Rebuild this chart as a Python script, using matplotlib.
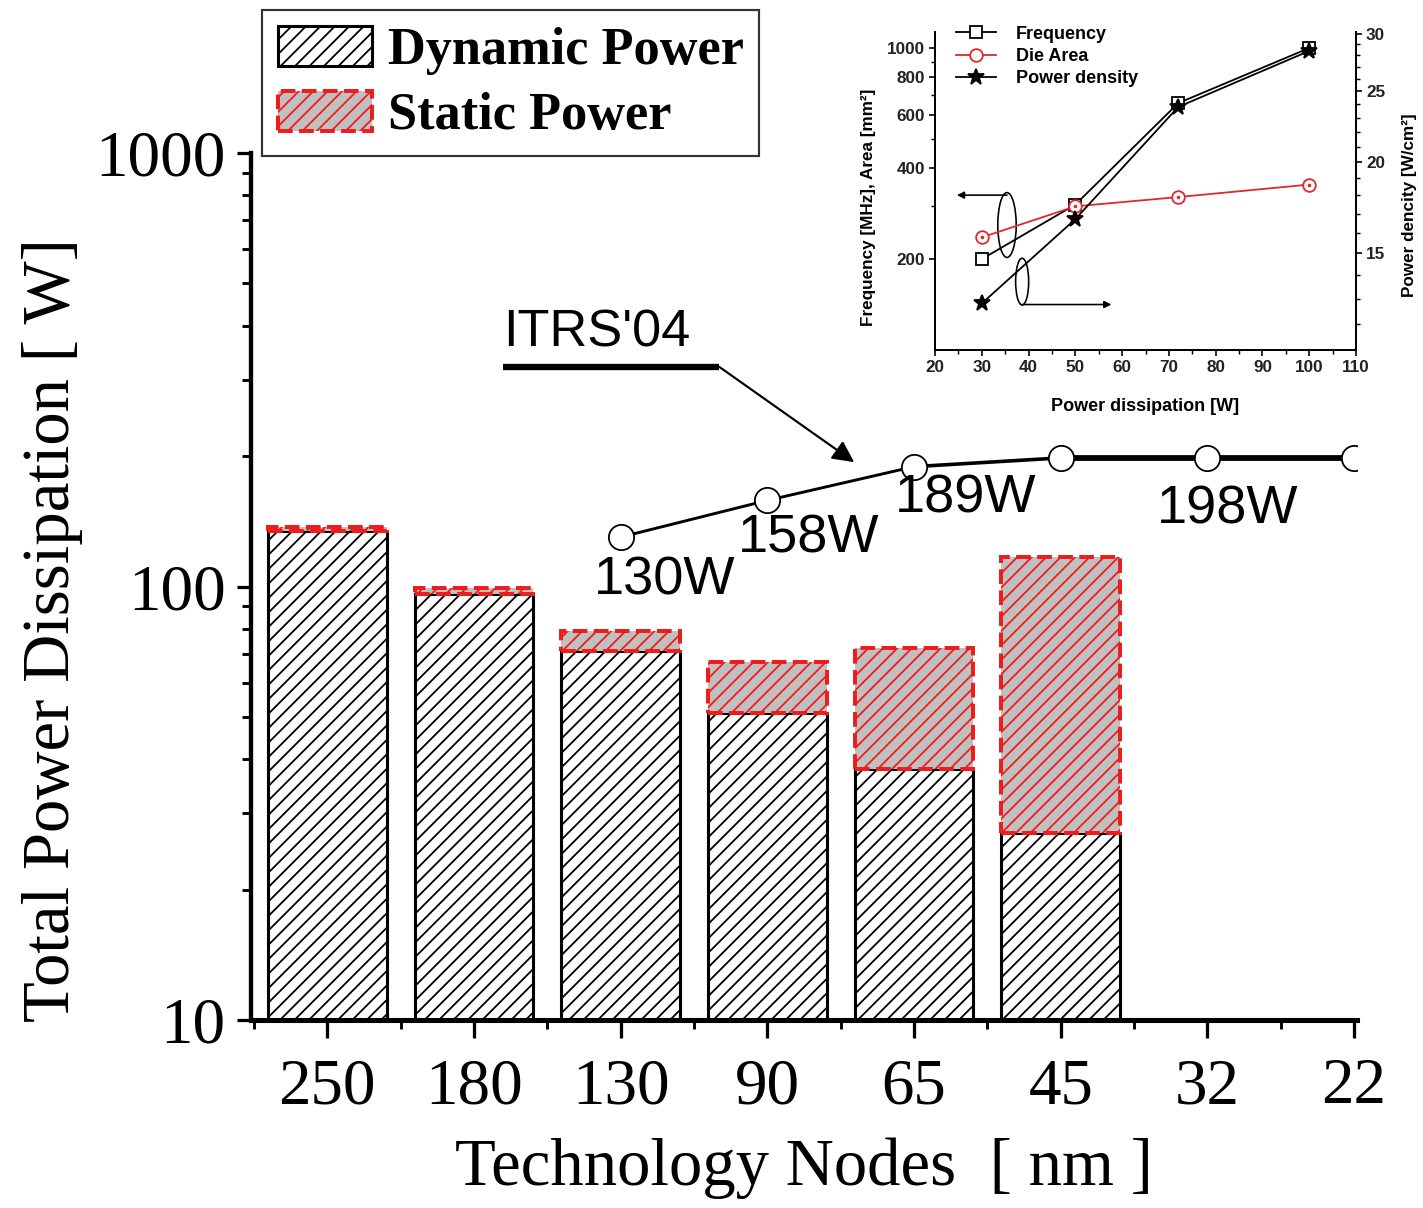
import matplotlib
matplotlib.use('Agg')
import matplotlib.pyplot as plt
from matplotlib.patches import Ellipse
from matplotlib.ticker import FixedLocator, FuncFormatter, MultipleLocator, NullFormatter
import numpy as np

# main chart: power per technology node
nodes = ['250', '180', '130', '90', '65', '45', '32', '22']
dynamic_power = [134, 96, 71, 51, 38, 27]
static_power = [3, 3, 8, 16, 34, 90]

itrs_nodes = ['130', '90', '65', '45', '32', '22']
itrs_power = [130, 158, 189, 198, 198, 198]
itrs_label_nodes = ['130', '90', '65', '32']
itrs_labels = ['130W', '158W', '189W', '198W']

# inset: frequency / die area / power density vs power
inset_power = [30, 50, 72, 100]
frequency = [200, 303, 657, 1000]
die_area = [236, 299, 321, 353]
power_density = [12.8, 16.7, 23.8, 28.4]

DPI = 130
W, H = 1423, 1208
plt.rcParams['hatch.linewidth'] = 1.0
plt.rcParams['font.family'] = 'Liberation Sans'
serif = 'Liberation Serif'
red = '#ee1c1c'

fig = plt.figure(figsize=(W / DPI, H / DPI), dpi=DPI)
ax = fig.add_axes([251 / W, 1 - 1020 / H, 1106 / W, 867 / H])

x = np.arange(len(nodes))
xb = x[:len(dynamic_power)]
dyn = ax.bar(xb, dynamic_power, 0.81, color='white', edgecolor='black',
             hatch='///', linewidth=1.7, label='Dynamic Power', zorder=2)
sta = ax.bar(xb, static_power, 0.81, bottom=dynamic_power, color='#c0c0c0',
             edgecolor=red, hatch='///', linewidth=2.2, linestyle='--',
             label='Static Power', zorder=3)

# ITRS'04 projection
ix = [nodes.index(n) for n in itrs_nodes]
ax.plot(ix[:3], itrs_power[:3], color='black', lw=1.6, zorder=4)
ax.plot(ix[2:4], itrs_power[2:4], color='black', lw=2.0, zorder=4)
ax.plot(ix[3:], itrs_power[3:], color='black', lw=3.2, zorder=4)
ax.plot(ix, itrs_power, ls='none', marker='o', ms=14, mfc='white',
        mec='black', mew=1.0, zorder=5)

k = 72 / DPI
offsets = [(44, -43), (41, -38), (52, -32), (20, -52)]
for n, lab, (dx, dy) in zip(itrs_label_nodes, itrs_labels, offsets):
    i = nodes.index(n)
    v = itrs_power[itrs_nodes.index(n)]
    ax.annotate(lab, xy=(i, v), xytext=(dx * k, dy * k), textcoords='offset points',
                ha='center', va='center', fontsize=30, zorder=6)

ax.text(1.84, 385, "ITRS'04", fontsize=29, ha='center', va='center')
ax.plot([1.197, 2.673], [321, 321], color='black', lw=3.5, solid_capstyle='butt')
ax.annotate('', xy=(3.592, 193.6), xytext=(2.673, 321),
            arrowprops=dict(arrowstyle='-|>', color='black', lw=1.2,
                            mutation_scale=25, shrinkA=0, shrinkB=0))

ax.set_yscale('log')
ax.set_ylim(10, 1000)
ax.set_xlim(-0.52, 7.02)
ax.set_xticks(x)
ax.set_xticklabels(nodes, fontfamily=serif, fontsize=36)
ax.xaxis.set_minor_locator(FixedLocator(np.append(x[:-1] + 0.5, -0.5)))
ax.yaxis.set_major_formatter(FuncFormatter(lambda v, p: f'{v:g}'))
ax.yaxis.set_minor_formatter(NullFormatter())
ax.tick_params(axis='y', which='major', length=8, width=1.8, pad=6, labelsize=36)
ax.tick_params(axis='y', which='minor', length=5, width=1.6)
ax.tick_params(axis='x', which='major', length=10, width=1.8, pad=11)
ax.tick_params(axis='x', which='minor', length=5, width=1.6)
for lbl in ax.get_yticklabels():
    lbl.set_fontfamily(serif)
ax.spines['top'].set_visible(False)
ax.spines['right'].set_visible(False)
ax.spines['left'].set_linewidth(2.4)
ax.spines['bottom'].set_linewidth(2.8)

ax.set_xlabel('Technology Nodes  [ nm ]', fontfamily=serif, fontsize=37)
ax.xaxis.set_label_coords(0.5, -0.135)
ax.set_ylabel('Total Power Dissipation [ W]', fontfamily=serif, fontsize=37)
ax.yaxis.set_label_coords(-0.152, 0.45)

leg = fig.legend(handles=[dyn, sta], loc='upper left',
                 bbox_to_anchor=(262 / W, 1 - 10 / H),
                 prop=dict(family=serif, weight='bold', size=29),
                 frameon=True, fancybox=False, edgecolor='black', borderaxespad=0,
                 handlelength=1.8, handleheight=0.8, handletextpad=0.3,
                 borderpad=0.3, labelspacing=0.3)
leg.get_frame().set_linewidth(1.2)

# inset chart
ins = fig.add_axes([935 / W, 1 - 350 / H, 421 / W, 318 / H])
ins.set_facecolor('none')
ins.set_yscale('log')
ins.set_xlim(20, 110)
ins.set_ylim(100, 1130)
ins2 = ins.twinx()
ins2.set_yscale('log')
ins2.set_ylim(11.05, 30.15)

l1, = ins.plot(inset_power, frequency, color='black', lw=1.0, marker='s', ms=6.5,
               mfc='white', mec='black', mew=1.0, label='Frequency')
l2, = ins.plot(inset_power, die_area, color='#e0282b', lw=1.0, marker='o', ms=7,
               mfc='white', mec='#e0282b', mew=1.0, label='Die Area')
ins.plot(inset_power, die_area, ls='none', marker='.', ms=2, color='#e0282b')
l3, = ins2.plot(inset_power, power_density, color='black', lw=1.0, marker='*',
                ms=9, label='Power density')

ins.add_patch(Ellipse((0.171, 0.393), 0.0437, 0.204, transform=ins.transAxes,
                      fill=False, lw=0.9, color='black'))
ins.add_patch(Ellipse((0.207, 0.215), 0.031, 0.147, transform=ins.transAxes,
                      fill=False, lw=0.9, color='black'))
ins.annotate('', xy=(0.052, 0.487), xytext=(0.171, 0.487), xycoords='axes fraction',
             arrowprops=dict(arrowstyle='-|>', lw=0.9, color='black',
                             shrinkA=0, shrinkB=0, mutation_scale=8))
ins.annotate('', xy=(0.419, 0.143), xytext=(0.207, 0.143), xycoords='axes fraction',
             arrowprops=dict(arrowstyle='-|>', lw=0.9, color='black',
                             shrinkA=0, shrinkB=0, mutation_scale=8))

ins.xaxis.set_major_locator(MultipleLocator(10))
ins.xaxis.set_minor_locator(MultipleLocator(5))
ins.set_yticks([200, 400, 600, 800, 1000])
ins.set_yticklabels(['200', '400', '600', '800', '1000'])
ins.yaxis.set_minor_locator(FixedLocator([300, 500, 700, 900]))
ins.yaxis.set_minor_formatter(NullFormatter())
ins2.set_yticks([15, 20, 25, 30])
ins2.set_yticklabels(['15', '20', '25', '30'])
ins2.yaxis.set_minor_locator(FixedLocator([v for v in range(12, 31) if v % 5]))
ins2.yaxis.set_minor_formatter(NullFormatter())

for a in (ins, ins2):
    a.spines['top'].set_visible(False)
    for s in a.spines.values():
        s.set_linewidth(1.0)
    a.tick_params(which='major', length=3.5, width=0.9, labelsize=9.5, pad=2)
    a.tick_params(which='minor', length=2, width=0.8)
for lbl in ins.get_xticklabels() + ins.get_yticklabels() + ins2.get_yticklabels():
    lbl.set_fontweight('bold')
    lbl.set_color('#222222')

ins.set_xlabel('Power dissipation [W]', fontsize=10, fontweight='bold')
ins.xaxis.set_label_coords(0.5, -0.15)
ins.set_ylabel('Frequency [MHz], Area [mm²]', fontsize=9.5, fontweight='bold')
ins.yaxis.set_label_coords(-0.14, 0.45)
ins2.set_ylabel('Power dencity [W/cm²]', fontsize=9.5, fontweight='bold')
ins2.yaxis.set_label_coords(1.11, 0.456)

ins2.legend(handles=[l1, l2, l3], loc='upper left', bbox_to_anchor=(0.05, 1.02),
            frameon=False, borderpad=0, borderaxespad=0, handlelength=2.2,
            handletextpad=1.1, labelspacing=0.3,
            prop=dict(size=10, weight='bold'))

fig.savefig('out.png', dpi=DPI)
